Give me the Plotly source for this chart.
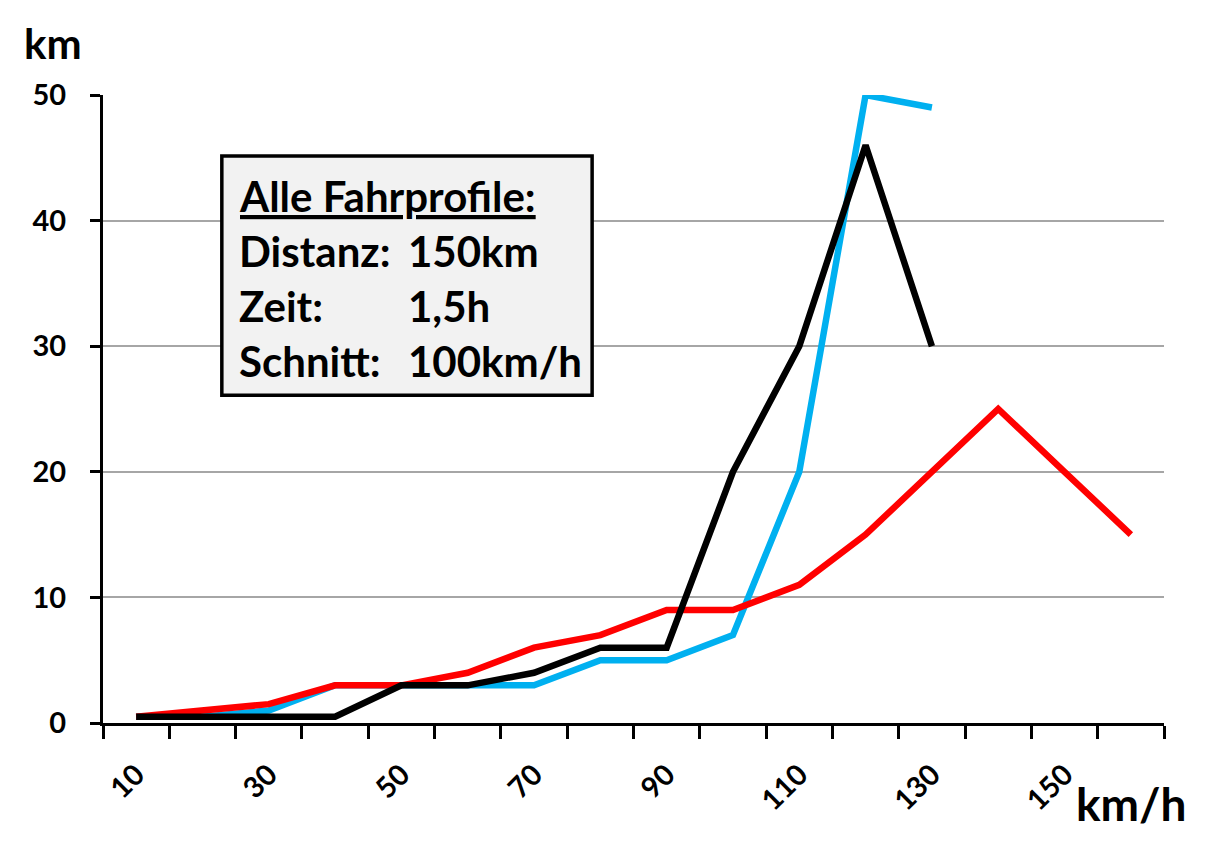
import plotly.graph_objects as go

# speed classes (km/h) and distance driven in each class (km)
speed = [10, 20, 30, 40, 50, 60, 70, 80, 90, 100, 110, 120, 130, 140, 150, 160]
km_blue = [0.5, 0.5, 1, 3, 3, 3, 3, 5, 5, 7, 20, 50, 49]
km_red = [0.5, 1, 1.5, 3, 3, 4, 6, 7, 9, 9, 11, 15, 20, 25, 20, 15]
km_black = [0.5, 0.5, 0.5, 0.5, 3, 3, 4, 6, 6, 20, 30, 46, 30]

x_labels = [10, 30, 50, 70, 90, 110, 130, 150]
y_ticks = [0, 10, 20, 30, 40, 50]

FONT = "Lato"

fig = go.Figure()
for ys, col in [(km_blue, "#00b0f0"), (km_red, "#ff0000"), (km_black, "#000000")]:
    fig.add_trace(go.Scatter(x=speed[:len(ys)], y=ys, mode="lines",
                             line=dict(color=col, width=6.5),
                             showlegend=False))

# page body has an 8px margin, so the figure is sized a bit smaller
fig.update_layout(
    width=1208, height=843,
    margin=dict(l=95, r=52, t=87, b=128),
    plot_bgcolor="white", paper_bgcolor="white",
    font=dict(family=FONT, color="black"),
    xaxis=dict(
        range=[5, 165], tickmode="array", tickvals=x_labels,
        ticktext=[str(v) for v in x_labels], tickangle=-45,
        tickfont=dict(size=29, family=FONT, weight="bold"),
        ticks="", ticklabelstandoff=20, showgrid=False, zeroline=False,
        showline=True, linecolor="black", linewidth=3,
        minor=dict(ticks="outside", tick0=5, dtick=10, ticklen=13,
                   tickwidth=2.5, tickcolor="black", showgrid=False),
    ),
    yaxis=dict(
        range=[0, 50], tickvals=y_ticks,
        tickfont=dict(size=29, family=FONT, weight="bold"),
        ticks="outside", ticklen=10, tickwidth=2.5, tickcolor="black",
        ticklabelstandoff=18,
        showgrid=True, gridcolor="#a6a6a6", gridwidth=1.8,
        zeroline=False, showline=True, linecolor="black", linewidth=3,
    ),
)

# info box
fig.add_shape(type="rect", xref="paper", yref="paper",
              x0=0.112, x1=0.461, y0=0.522, y1=0.903,
              line=dict(color="black", width=3.5), fillcolor="#f2f2f2",
              layer="above")

rows = [("<u>Alle Fahrprofile:</u>", ""), ("Distanz:", "150km"),
        ("Zeit:", "1,5h"), ("Schnitt:", "100km/h")]
row_y = [0.839, 0.752, 0.664, 0.576]
for (left, right), yy in zip(rows, row_y):
    fig.add_annotation(text=left, xref="paper", yref="paper", x=0.126, y=yy,
                       xanchor="left", yanchor="middle", showarrow=False,
                       font=dict(size=42, family=FONT, weight="bold"))
    if right:
        fig.add_annotation(text=right, xref="paper", yref="paper", x=0.286,
                           y=yy, xanchor="left", yanchor="middle",
                           showarrow=False,
                           font=dict(size=42, family=FONT, weight="bold"))

# axis units
fig.add_annotation(text="km", xref="paper", yref="paper", x=-0.047, y=1.083,
                   xanchor="center", yanchor="middle", showarrow=False,
                   font=dict(size=42, family=FONT, weight="bold"))
fig.add_annotation(text="km/h", xref="paper", yref="paper", x=0.969, y=-0.128,
                   xanchor="center", yanchor="middle", showarrow=False,
                   font=dict(size=46, family=FONT, weight="bold"))

fig.write_html("out.html")
